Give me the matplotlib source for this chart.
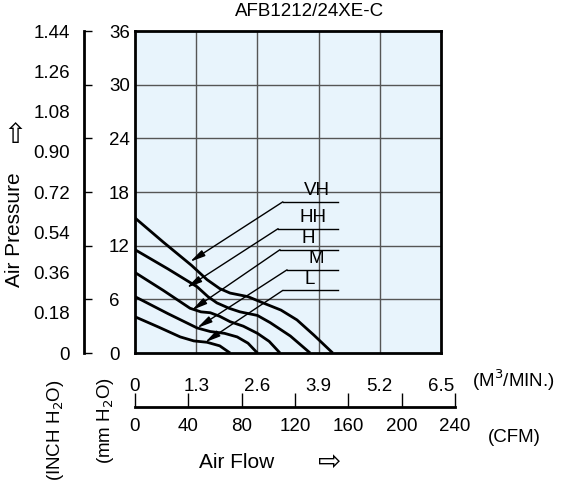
import numpy as np
import matplotlib
matplotlib.use("Agg")
import matplotlib.pyplot as plt

plt.rcParams["font.family"] = ["Liberation Sans", "DejaVu Sans"]

# air flow in M3/MIN, pressure in mm H2O
curves = {
    "VH": ([0, 0.6, 1.2, 1.53, 1.8, 2.02, 2.4, 2.72, 3.1, 3.44, 3.8, 4.2],
           [15.1, 12.4, 9.8, 8.2, 7.2, 6.7, 6.3, 5.6, 4.8, 3.7, 2.0, 0]),
    "HH": ([0, 0.7, 1.32, 1.55, 1.74, 2.0, 2.23, 2.6, 2.87, 3.3, 3.72],
           [11.55, 9.4, 7.4, 6.3, 5.6, 5.0, 4.6, 4.2, 3.4, 1.9, 0]),
    "H": ([0, 0.6, 1.17, 1.4, 1.6, 1.8, 2.02, 2.3, 2.6, 2.85, 3.08],
          [9.0, 7.0, 5.0, 4.6, 4.5, 4.1, 3.5, 3.0, 2.2, 1.3, 0]),
    "M": ([0, 0.7, 1.32, 1.6, 1.9, 2.17, 2.4, 2.6],
          [6.3, 4.4, 2.8, 2.4, 2.2, 1.8, 1.1, 0]),
    "L": ([0, 0.5, 0.96, 1.25, 1.53, 1.8, 2.02],
          [4.05, 2.9, 1.8, 1.35, 1.2, 0.8, 0]),
}
label_pos = {"VH": (3.14, 16.9), "HH": (3.04, 13.9), "H": (3.08, 11.55),
             "M": (3.23, 9.3), "L": (3.14, 7.0)}
arrow_tip = {"VH": (1.17, 10.2), "HH": (1.1, 7.3), "H": (1.21, 4.8),
             "M": (1.32, 2.8), "L": (1.49, 1.2)}

cmm_ticks = [0, 1.3, 2.6, 3.9, 5.2, 6.5]
mm_ticks = [0, 6, 12, 18, 24, 30, 36]
inch_labels = ["0", "0.18", "0.36", "0.54", "0.72", "0.90", "1.08", "1.26", "1.44"]
cfm_ticks = [0, 40, 80, 120, 160, 200, 240]

W, H = 573, 494
FS = 13.5
fig = plt.figure(figsize=(W / 100, H / 100), dpi=100)


def rect(x0, y0, x1, y1):
    return [x0 / W, 1 - y1 / H, (x1 - x0) / W, (y1 - y0) / H]


ax = fig.add_axes(rect(135, 31, 441, 353))
ax.set_facecolor("#e8f4fc")
ax.set_xlim(0, 6.5)
ax.set_ylim(0, 36)
for x in cmm_ticks[1:-1]:
    ax.axvline(x, color="#555555", lw=1, zorder=1)
for y in mm_ticks[1:-1]:
    ax.axhline(y, color="#555555", lw=1, zorder=1)
for s in ax.spines.values():
    s.set_linewidth(2)
ax.set_xticks(cmm_ticks)
ax.set_xticklabels(["0", "1.3", "2.6", "3.9", "5.2", "6.5"])
ax.tick_params(axis="x", length=0, pad=18, labelsize=FS)
ax.set_yticks([])

for name, (xs, ys) in curves.items():
    ax.plot(xs, ys, color="black", lw=2, zorder=3, solid_capstyle="butt",
            solid_joinstyle="round")
    lx, ly = label_pos[name]
    ax.plot([lx, 4.31], [ly, ly], color="black", lw=1, zorder=4)
    ax.text(lx + 0.45, ly + 0.3, name, fontsize=FS, va="bottom", zorder=4)
    ax.annotate("", xy=arrow_tip[name], xytext=(lx, ly), zorder=4,
                arrowprops=dict(arrowstyle="-|>,head_length=0.9,head_width=0.2",
                                color="black", lw=1, shrinkA=0, shrinkB=0))

# separate pressure scale
ax_mm = fig.add_axes(rect(84, 31, 84.01, 353))
ax_mm.set_ylim(0, 36)
ax_mm.set_xticks([])
ax_mm.patch.set_visible(False)

ax_in = ax_mm.twinx()
ax_in.set_ylim(0, 36)
ax_in.yaxis.tick_left()
ax_in.set_yticks(np.arange(len(inch_labels)) * 4.5)
ax_in.set_yticklabels(inch_labels)
ax_in.tick_params(axis="y", length=0, pad=10, labelsize=FS)
for s in ax_in.spines.values():
    s.set_visible(False)

for k in ["top", "bottom", "left"]:
    ax_mm.spines[k].set_visible(False)
ax_mm.spines["right"].set_visible(True)
ax_mm.spines["right"].set_linewidth(2)
ax_mm.yaxis.tick_right()
ax_mm.set_yticks(mm_ticks)
ax_mm.tick_params(axis="y", left=False, labelleft=False, right=True,
                  labelright=True, length=6, width=1, pad=12, labelsize=FS)

# CFM scale
cfm_end = 135 + 240 / 35.31 / 6.5 * 306
ax_cfm = fig.add_axes(rect(135, 407, cfm_end, 407.01))
ax_cfm.set_xlim(0, 240)
ax_cfm.set_yticks([])
for k in ["top", "left", "right"]:
    ax_cfm.spines[k].set_visible(False)
ax_cfm.spines["bottom"].set_linewidth(2)
ax_cfm.set_xticks(cfm_ticks)
ax_cfm.tick_params(axis="x", direction="in", length=10, width=1, pad=8, labelsize=FS)
ax_cfm.patch.set_visible(False)

fig.text(310 / W, 1 - 11 / H, "AFB1212/24XE-C", ha="center", va="center", fontsize=FS)
fig.text(472 / W, 1 - 380 / H, "(M$^3$/MIN.)", ha="left", va="center", fontsize=FS)
fig.text(488 / W, 1 - 437 / H, "(CFM)", ha="left", va="center", fontsize=FS)
fig.text(237 / W, 1 - 462 / H, "Air Flow", ha="center", va="center", fontsize=15)
fig.text(330 / W, 1 - 462 / H, "⇨", ha="center", va="center", fontsize=20,
         family="DejaVu Sans")
fig.text(15 / W, 1 - 230 / H, "Air Pressure", ha="center", va="center",
         rotation=90, fontsize=15)
fig.text(15 / W, 1 - 135 / H, "⇧", ha="center", va="center", fontsize=20,
         family="DejaVu Sans")
fig.text(55 / W, 1 - 430 / H, "(INCH H$_2$O)", ha="center", va="center",
         rotation=90, fontsize=FS)
fig.text(105 / W, 1 - 420 / H, "(mm H$_2$O)", ha="center", va="center",
         rotation=90, fontsize=FS)

fig.savefig("out.png", dpi=100)
